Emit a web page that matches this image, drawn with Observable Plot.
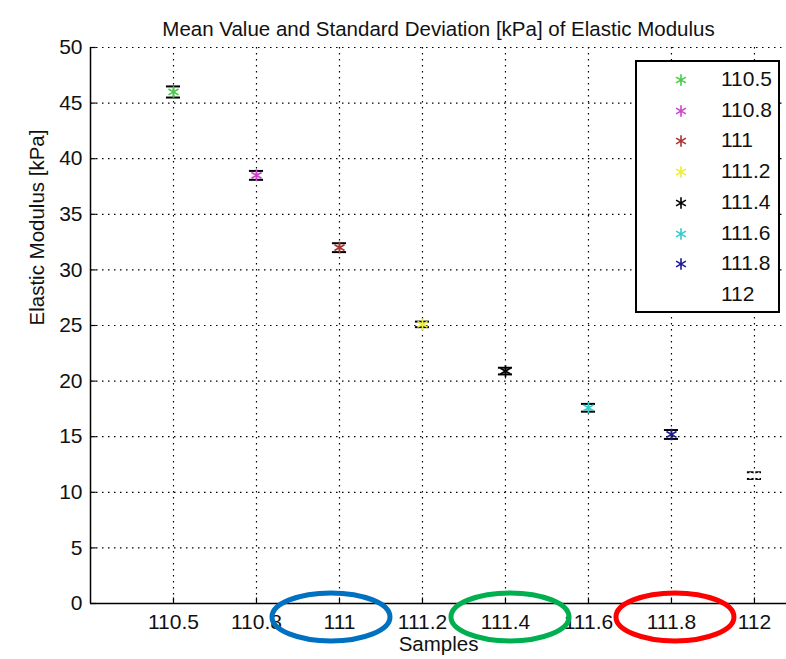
<!DOCTYPE html>
<html>
<head>
<meta charset="utf-8">
<script src="https://cdn.jsdelivr.net/npm/d3@7"></script>
<script src="https://cdn.jsdelivr.net/npm/@observablehq/plot@0.6"></script>
<style>
  body { margin: 0; background: #fff; }
  #wrap { position: relative; width: 786px; height: 659px; font-family: "Liberation Sans", Arial, sans-serif; }
  #legend { position: absolute; left: 635px; top: 60px; width: 141px; height: 249px; border: 2px solid #000; background: #fff; }
  .row { position: absolute; left: 0; height: 30px; width: 141px; }
  .row svg { position: absolute; left: 34px; top: 5px; }
  .row span { position: absolute; left: 84px; top: 2px; font-size: 21px; color: #111; }
</style>
</head>
<body>
<div id="wrap"></div>
<script>
const samples = ["110.5", "110.8", "111", "111.2", "111.4", "111.6", "111.8", "112"];
const means   = [46.0, 38.5, 32.0, 25.1, 20.9, 17.6, 15.2, 11.5];
const stds    = [0.5, 0.4, 0.4, 0.25, 0.3, 0.35, 0.4, 0.3];
const colors  = ["#44cc44", "#cc44cc", "#aa3333", "#eeee33", "#000000", "#33cccc", "#1a1a99", "#ffffff"];
const yTicks  = [0, 5, 10, 15, 20, 25, 30, 35, 40, 45, 50];
const titleText = "Mean Value and Standard Deviation [kPa] of Elastic Modulus";
const xLabel = "Samples";
const yLabel = "Elastic Modulus [kPa]";
const circled = ["111", "111.4", "111.8"];
const circleColors = ["#0070c0", "#00b050", "#ff0000"];

const data = samples.map((s, i) => ({s, i: i + 1, m: means[i], sd: stds[i], c: colors[i]}));
const xIdx = samples.map((s, i) => i + 1);
const font = "Liberation Sans, Arial, sans-serif";
const dots = "1.5,4.5";

const plot = Plot.plot({
  width: 786,
  height: 659,
  marginLeft: 90,
  marginRight: 0,
  marginTop: 47,
  marginBottom: 56,
  style: {fontFamily: font, background: "white"},
  x: {domain: [0, 8.386], axis: null},
  y: {domain: [0, 50], axis: null},
  marks: [
    Plot.ruleY(yTicks.filter(d => d > 0), {y: d => d, stroke: "#000", strokeWidth: 1.2, strokeDasharray: dots}),
    Plot.ruleX(xIdx, {x: d => d, stroke: "#000", strokeWidth: 1.2, strokeDasharray: dots}),
    Plot.ruleX([0], {x: d => d, stroke: "#000", strokeWidth: 1.5}),
    Plot.ruleY([0], {y: d => d, stroke: "#000", strokeWidth: 1.5}),
    Plot.ruleY(yTicks, {y: d => d, x1: 0, x2: 0.07, stroke: "#000", strokeWidth: 1.2}),
    Plot.ruleX(xIdx, {x: d => d, y1: 0, y2: 0.5, stroke: "#000", strokeWidth: 1.2}),
    Plot.text(yTicks, {x: 0, y: d => d, text: d => String(d), textAnchor: "end", dx: -8, fontSize: 21, fill: "#111"}),
    Plot.text(data, {x: "i", y: 0, text: "s", dy: 19, fontSize: 21, fill: "#111"}),
    // error bars
    Plot.ruleX(data, {x: "i", y1: d => d.m - d.sd, y2: d => d.m + d.sd, stroke: "#000", strokeWidth: 1.2}),
    Plot.ruleY(data, {y: d => d.m - d.sd, x1: d => d.i - 0.085, x2: d => d.i + 0.085, stroke: "#000", strokeWidth: 2}),
    Plot.ruleY(data, {y: d => d.m + d.sd, x1: d => d.i - 0.085, x2: d => d.i + 0.085, stroke: "#000", strokeWidth: 2}),
    // markers
    Plot.dot(data, {x: "i", y: "m", symbol: "asterisk", r: 5.5, stroke: "c", strokeWidth: 1.7}),
    // labels
    Plot.text([titleText], {frameAnchor: "top", text: d => d, dy: -26, fontSize: 20.5, fill: "#111"}),
    Plot.text([xLabel], {frameAnchor: "bottom", text: d => d, dy: 47, fontSize: 20.5, fill: "#111"}),
    Plot.text([yLabel], {frameAnchor: "left", text: d => d, rotate: -90, dx: -53, fontSize: 20.5, fill: "#111"})
  ]
});

document.getElementById("wrap").appendChild(plot);

// annotation ellipses around selected tick labels, placed with the plot's scales
const xs = plot.scale("x"), ys = plot.scale("y");
const svg = d3.select(plot);
const shifts = [-8, 5, 4];
circled.forEach((c, k) => {
  const i = samples.indexOf(c) + 1;
  svg.append("ellipse")
    .attr("cx", xs.apply(i) + shifts[k])
    .attr("cy", ys.apply(-1.25))
    .attr("rx", 59)
    .attr("ry", 24)
    .attr("fill", "none")
    .attr("stroke", circleColors[k])
    .attr("stroke-width", 5);
});

// legend
const legend = document.createElement("div");
legend.id = "legend";
samples.forEach((s, i) => {
  const row = document.createElement("div");
  row.className = "row";
  row.style.top = (3 + i * 30.7) + "px";
  const path = d3.symbol(d3.symbolAsterisk, 90)();
  row.innerHTML = `<svg width="20" height="20"><path d="${path}" transform="translate(10,10)" fill="none" stroke="${colors[i]}" stroke-width="1.6"/></svg><span>${s}</span>`;
  legend.appendChild(row);
});
document.getElementById("wrap").appendChild(legend);
</script>
</body>
</html>
